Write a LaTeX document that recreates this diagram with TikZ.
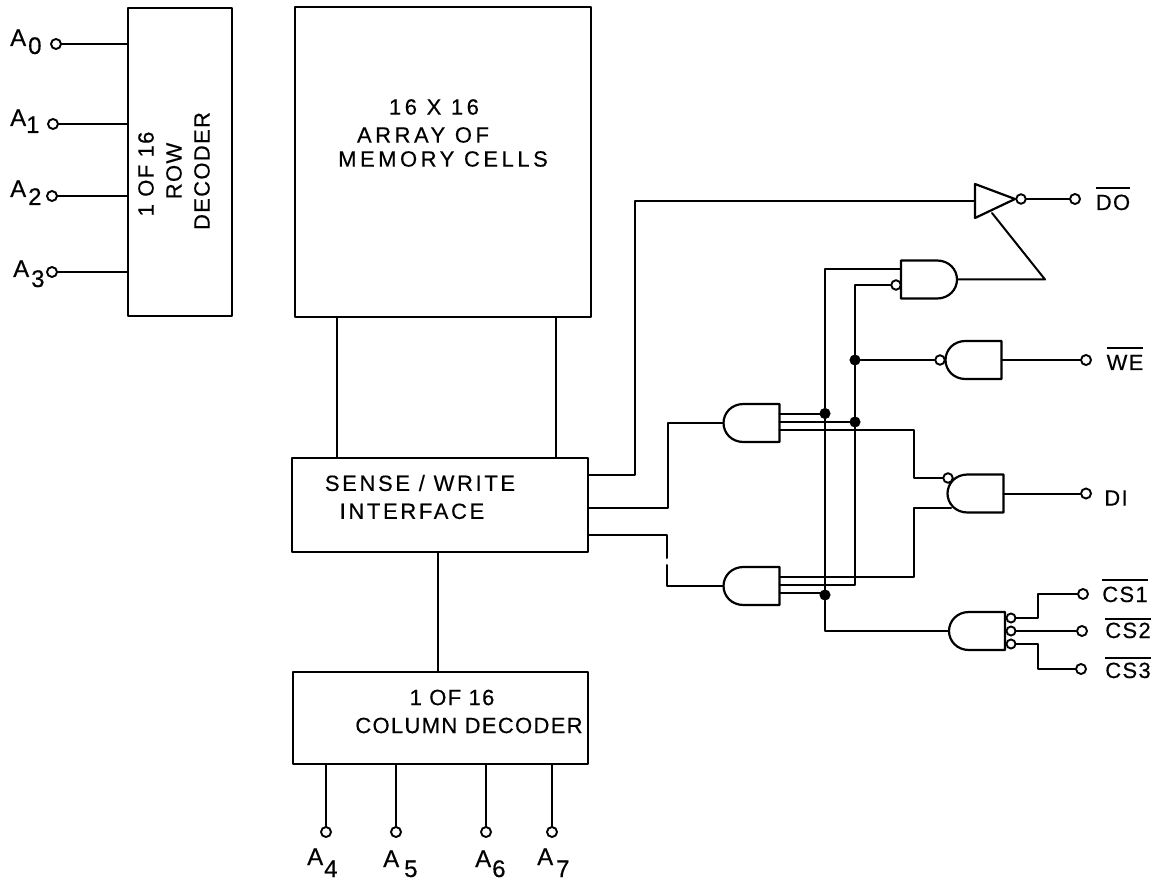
\documentclass[tikz,border=0pt]{standalone}
\usepackage{fontspec}
\setmainfont[LetterSpace=6,FakeBold=0.4]{Liberation Sans}
\usetikzlibrary{calc}
\newcommand{\Asub}[3]{A\kern#1pt\raisebox{-#2pt}{#3}}
\newcommand{\ovl}[2]{\vbox{\hrule height 1.7pt \vskip #1pt \hbox{#2}}}
\tikzset{
  x=1pt,y=-1pt,
  every node/.style={font=\fontsize{22}{28}\selectfont},
  wire/.style={line width=2pt,line cap=round,line join=round},
  block/.style={draw,line width=2.2pt,rectangle,inner sep=0pt,line join=round},
  terminal/.style={draw,circle,line width=1.9pt,fill=white,inner sep=0pt,minimum size=10pt},
  bubble/.style={terminal,minimum size=9.5pt},
  dotj/.style={draw,circle,fill=black,inner sep=0pt,minimum size=10.5pt,line width=0.5pt},
  plain/.style={inner sep=0pt,align=center},
  sub/.style={inner sep=0pt,anchor=base west,font=\fontsize{24}{28}\selectfont},
  ovlab/.style={inner sep=0pt,anchor=base},
  andleft/.pic={
    \draw[wire,line width=2.2pt] (28,-19) -- (-8,-19) .. controls (-20,-19) and (-28,-10) .. (-28,0)
      .. controls (-28,10) and (-20,19) .. (-8,19) -- (28,19) -- cycle;
    \coordinate (-in) at (-28,0);
    \coordinate (-out) at (28,0);
    \coordinate (-o1) at (28,-9.5);
    \coordinate (-o2) at (28,-1);
    \coordinate (-o3) at (28,7);
  },
  andright/.pic={
    \draw[wire,line width=2.2pt] (-28,-19) -- (8,-19) .. controls (20,-19) and (28,-10) .. (28,0)
      .. controls (28,10) and (20,19) .. (8,19) -- (-28,19) -- cycle;
    \coordinate (-i1) at (-28,-10.5);
    \coordinate (-out) at (28,0);
  },
}
\begin{document}
\begin{tikzpicture}
\useasboundingbox (0,0) rectangle (1159,882);

% blocks
\node[block,minimum width=104pt,minimum height=308pt] (row) at (180,162) {};
\node[block,minimum width=296pt,minimum height=310pt] (arr) at (443,162) {};
\node[block,minimum width=296pt,minimum height=94pt] (sw) at (440,505) {};
\node[block,minimum width=295pt,minimum height=92pt] (col) at (440.5,718) {};

% block texts
\node[plain,rotate=90] (rowt) at (174,171) {\hspace*{-6pt}1 OF 16\\ROW\\DECODER};
\node[plain,font=\fontsize{22}{28}\selectfont\addfontfeature{LetterSpace=16}] (arrt) at (443,133) {\hspace*{-18pt}16 X 16\\\hspace*{-40pt}ARRAY OF\\[-4pt]MEMORY CELLS};
\node[plain,font=\fontsize{22}{28}\selectfont\addfontfeature{LetterSpace=12}] (swt) at (420,497) {SENSE / WRITE\\\hspace*{-16pt}INTERFACE};
\node[plain] (colt) at (469,711.5) {\hspace*{-34pt}1 OF 16\\COLUMN DECODER};

% address terminals
\node[terminal] (t0) at (56,44) {};
\node[terminal] (t1) at (53,124) {};
\node[terminal] (t2) at (52,196) {};
\node[terminal] (t3) at (52,272) {};
\node[terminal] (t4) at (326,832) {};
\node[terminal] (t5) at (396,832) {};
\node[terminal] (t6) at (486,832) {};
\node[terminal] (t7) at (552,832) {};
\node[sub] (l0) at (10,46) {\Asub{2}{8}{0}};
\node[sub] (l1) at (10,126) {\Asub{0}{7}{1}};
\node[sub] (l2) at (10,197) {\Asub{2}{8}{2}};
\node[sub] (l3) at (13,277) {\Asub{2}{10}{3}};
\node[sub] (l4) at (307,865) {\Asub{1}{12}{4}};
\node[sub] (l5) at (383,867) {\Asub{5}{10}{5}};
\node[sub] (l6) at (475,867) {\Asub{1}{10}{6}};
\node[sub] (l7) at (537,865) {\Asub{3}{12}{7}};

\foreach \t in {t0,t1,t2,t3} \draw[wire] (\t.east) -- (\t -| row.west);
\foreach \t in {t4,t5,t6,t7} \draw[wire] (\t.north) -- (\t |- col.south);

% block links
\coordinate (l1a) at (337,317);
\coordinate (l2a) at (556,317);
\draw[wire] (l1a) -- (l1a |- sw.north);
\draw[wire] (l2a) -- (l2a |- sw.north);
\draw[wire] (sw.south -| 438,0) -- (col.north -| 438,0);

% gates
\pic (u1) at (751.5,423) {andleft};
\pic (u2) at (751.5,586) {andleft};
\pic (u3) at (929,279.5) {andright};
\pic (u4) at (973.5,360) {andleft};
\pic (u5) at (975.5,493.5) {andleft};
\pic (u6) at (977,631) {andleft};

% tri-state buffer
\coordinate (trA) at (975,184);
\coordinate (trB) at (975,218);
\coordinate (trC) at (1015,199);
\draw[wire,line width=2.2pt,fill=white] (trA) -- (trC) -- (trB) -- cycle;
\coordinate (trI) at (975,201);
\coordinate (trE) at (992,213);
\coordinate (bend) at (1045,279.5);

% bubbles
\node[bubble] (bt) at (1021,199) {};
\node[bubble] (b3) at (896,285) {};
\node[bubble] (b4) at (940,360) {};
\node[bubble] (b5) at (948,478) {};
\node[bubble,minimum size=9pt] (c1) at (1011,618) {};
\node[bubble,minimum size=9pt] (c2) at (1011,631) {};
\node[bubble,minimum size=9pt] (c3) at (1011,644) {};

% right terminals
\node[terminal] (tdo) at (1075,199) {};
\node[terminal] (twe) at (1086,360) {};
\node[terminal] (tdi) at (1086,493.5) {};
\node[terminal] (tc1) at (1083,594) {};
\node[terminal] (tc2) at (1082,631) {};
\node[terminal] (tc3) at (1081,669) {};
\node[ovlab] (ldo) at (1113,210) {\ovl{6}{DO}};
\node[ovlab] (lwe) at (1125,370) {\ovl{6}{WE}};
\node[plain] (ldi) at (1116,498) {DI};
\node[ovlab] (lc1) at (1125,602) {\ovl{6}{CS1}};
\node[ovlab] (lc2) at (1128,638) {\ovl{3}{CS2}};
\node[ovlab] (lc3) at (1128,678) {\ovl{4}{CS3}};

% junctions
\node[dotj] (ja) at (825,413.5) {};
\node[dotj] (jb) at (855,422) {};
\node[dotj] (jc) at (825,595) {};
\node[dotj] (jd) at (855,360) {};

% routing helpers
\coordinate (s1) at (588,475);
\coordinate (s2) at (588,508);
\coordinate (s3) at (588,535);
\coordinate (v1) at (635,475);
\coordinate (v2) at (668,508);
\coordinate (v3a) at (667,558);
\coordinate (v3b) at (667,565);
\coordinate (n1) at (914,478);
\coordinate (d2) at (951,508);

% connectors
\draw[wire] (s1) -- (v1) |- (trI);
\draw[wire] (s2) -- (v2) |- (u1-in);
\draw[wire] (s3) -| (v3a);
\draw[wire] (v3b) |- (u2-in);

\draw[wire] (u3-i1) -| (ja) -- (jc) |- (u6-in);
\draw[wire] (b3.west) -| (jd) -- (jb) |- (u2-o2);
\draw[wire] (jd) -- (b4.west);
\draw[wire] (u1-o1) -- (ja);
\draw[wire] (u1-o2) -- (jb);
\draw[wire] (u2-o3) -- (u2-o3 -| jc);
\draw[wire] (u1-o3) -| (n1) -- (b5.west);
\draw[wire] (u2-o1) -| ($(n1)+(0,30)$) -- (d2);

\draw[wire] (u3-out) -- (bend) -- (trE);
\draw[wire] (bt.east) -- (tdo.west);
\draw[wire] (u4-out) -- (twe.west);
\draw[wire] (u5-out) -- (tdi.west);
\draw[wire] (c1.east) -- (1038,618) |- (tc1.west);
\draw[wire] (c2.east) -- (tc2.west);
\draw[wire] (c3.east) -- (1038,644) |- (tc3.west);
\end{tikzpicture}
\end{document}
